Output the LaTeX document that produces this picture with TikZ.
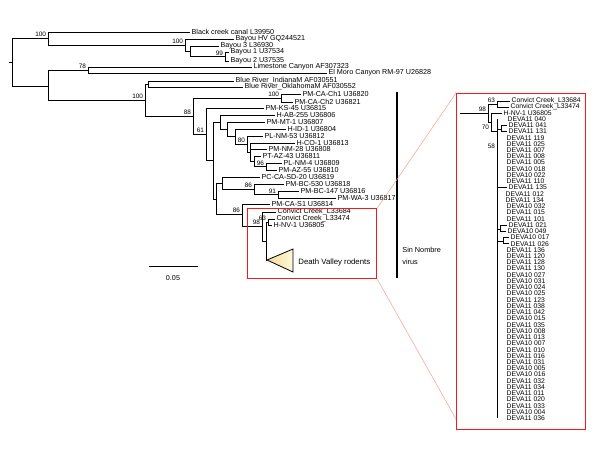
\documentclass[tikz,border=0pt]{standalone}
\usepackage{fontspec}
\setmainfont{Liberation Sans}
\definecolor{boxred}{HTML}{F21A1A}
\definecolor{zoomline}{HTML}{F5A08E}
\definecolor{wedgepale}{HTML}{FFF8DC}
\definecolor{wedgegold}{HTML}{F3DC96}

\begin{document}
\begin{tikzpicture}[x=1pt, y=-1pt, line width=0.8pt,
    leaf/.style={anchor=west, inner sep=1.2pt, font=\fontsize{7.2}{7.5}\selectfont},
    deva/.style={anchor=west, inner sep=1.2pt, font=\fontsize{6.8}{6.8}\selectfont},
    bs/.style={anchor=south east, inner sep=0.6pt, xshift=-1pt, font=\fontsize{6.4}{6.4}\selectfont}]
  \useasboundingbox (0,0) rectangle (600,450);

  % internal nodes of the main tree
  \coordinate (rstem) at (9,62);
  \coordinate (root) at (12,62);
  \coordinate (nBcc) at (48,38);
  \coordinate (nBay) at (185,45);
  \coordinate (nB3) at (190,51.5);
  \coordinate (nB12) at (225,56.5);
  \coordinate (nLow) at (48,86);
  \coordinate (n78) at (88,70);
  \coordinate (n100) at (145,100);
  \coordinate (nBr) at (148,84);
  \coordinate (n88) at (193,116);
  \coordinate (nCh) at (281,98);
  \coordinate (n61) at (206,134);
  \coordinate (nG) at (213,160);
  \coordinate (nA) at (220,122);
  \coordinate (nB) at (227,129);
  \coordinate (nC) at (235,136);
  \coordinate (n80) at (247,144);
  \coordinate (nE) at (250,152);
  \coordinate (nF) at (254,161);
  \coordinate (n96) at (266,166.5);
  \coordinate (nX) at (216,199);
  \coordinate (nH) at (222,183);
  \coordinate (n86a) at (254,189);
  \coordinate (n91) at (278,194.5);
  \coordinate (n86b) at (242,214);
  \coordinate (n98) at (262,226);
  \coordinate (nY) at (266,241);
  \coordinate (n63) at (268,222);
  \coordinate (dvtip) at (267,260);

  % tips
  \node[leaf] (tBcc) at (190,32) {Black creek canal L39950};
  \node[leaf] (tBhv) at (234,39) {Bayou HV GQ244521};
  \node[leaf] (tB3) at (219,46) {Bayou 3 L36930};
  \node[leaf] (tB1) at (229,52) {Bayou 1 U37534};
  \node[leaf] (tB2) at (229,61) {Bayou 2 U37535};
  \node[leaf] (tLim) at (252,67) {Limestone Canyon AF307323};
  \node[leaf] (tElm) at (327,73) {El Moro Canyon RM-97 U26828};
  \node[leaf] (tBri) at (234,81) {Blue River\_IndianaM AF030551};
  \node[leaf] (tBro) at (243,87) {Blue River\_OklahomaM AF030552};
  \node[leaf] (tCh1) at (301,94) {PM-CA-Ch1 U36820};
  \node[leaf] (tCh2) at (293,102) {PM-CA-Ch2 U36821};
  \node[leaf] (tKs) at (264,108) {PM-KS-45 U36815};
  \node[leaf] (tAb) at (275,115) {H-AB-255 U36806};
  \node[leaf] (tMt) at (265,122) {PM-MT-1 U36807};
  \node[leaf] (tId) at (286,129) {H-ID-1 U36804};
  \node[leaf] (tNm53) at (263,136) {PL-NM-53 U36812};
  \node[leaf] (tCo) at (295,143) {H-CO-1 U36813};
  \node[leaf] (tNm28) at (267,149) {PM-NM-28 U36808};
  \node[leaf] (tAz43) at (261,156) {PT-AZ-43 U36811};
  \node[leaf] (tNm4) at (282,163) {PL-NM-4 U36809};
  \node[leaf] (tAz55) at (277,170) {PM-AZ-55 U36810};
  \node[leaf] (tSd) at (260,177) {PC-CA-SD-20 U36819};
  \node[leaf] (tBc530) at (284,184) {PM-BC-530 U36818};
  \node[leaf] (tBc147) at (299,191) {PM-BC-147 U36816};
  \node[leaf] (tWa) at (336,198) {PM-WA-3 U36817};
  \node[leaf] (tS1) at (270,204) {PM-CA-S1 U36814};
  \node[leaf] (tCc1) at (276,212) {Convict Creek\_L33684};
  \node[leaf] (tCc2) at (275,219) {Convict Creek\_L33474};
  \node[leaf] (tNv) at (272,225) {H-NV-1 U36805};

  % branches
  \draw (rstem) -- (root);
  \draw (root) |- (nBcc);
  \draw (root) |- (nLow);
  \draw (nBcc) |- (tBcc.west);
  \draw (nBcc) |- (nBay);
  \draw (nBay) |- (tBhv.west);
  \draw (nBay) |- (nB3);
  \draw (nB3) |- (tB3.west);
  \draw (nB3) |- (nB12);
  \draw (nB12) |- (tB1.west);
  \draw (nB12) |- (tB2.west);
  \draw (nLow) |- (n78);
  \draw (nLow) |- (n100);
  \draw (n78) |- (tLim.west);
  \draw (n78) |- (tElm.west);
  \draw (n100) |- (nBr);
  \draw (n100) |- (n88);
  \draw (nBr) |- (tBri.west);
  \draw (nBr) |- (tBro.west);
  \draw (n88) |- (nCh);
  \draw (n88) |- (n61);
  \draw (nCh) |- (tCh1.west);
  \draw (nCh) |- (tCh2.west);
  \draw (n61) |- (tKs.west);
  \draw (n61) |- (nG);
  \draw (nG) |- (nA);
  \draw (nG) |- (nX);
  \draw (nA) |- (tAb.west);
  \draw (nA) |- (nB);
  \draw (nB) |- (tMt.west);
  \draw (nB) |- (nC);
  \draw (nC) |- (tId.west);
  \draw (nC) |- (n80);
  \draw (n80) |- (tNm53.west);
  \draw (n80) |- (nE);
  \draw (nE) |- (tCo.west);
  \draw (nE) |- (tNm28.west);
  \draw (nE) |- (nF);
  \draw (nF) |- (tAz43.west);
  \draw (nF) |- (n96);
  \draw (n96) |- (tNm4.west);
  \draw (n96) |- (tAz55.west);
  \draw (nX) |- (nH);
  \draw (nX) |- (n86b);
  \draw (nH) |- (tSd.west);
  \draw (nH) |- (n86a);
  \draw (n86a) |- (tBc530.west);
  \draw (n86a) |- (n91);
  \draw (n91) |- (tBc147.west);
  \draw (n91) |- (tWa.west);
  \draw (n86b) |- (tS1.west);
  \draw (n86b) |- (n98);
  \draw (n98) |- (tCc1.west);
  \draw (n98) |- (nY);
  \draw (nY) |- (n63);
  \draw (nY) |- (dvtip);
  \draw (n63) |- (tCc2.west);
  \draw (n63) |- (tNv.west);

  % bootstrap values
  \node[bs] (bBcc) at (nBcc) {100};
  \node[bs] (bBay) at (nBay) {100};
  \node[bs] (bB12) at (nB12) {99};
  \node[bs] (b78) at (n78) {78};
  \node[bs] (b100) at (n100) {100};
  \node[bs] (b88) at (n88) {88};
  \node[bs] (bCh) at (nCh) {100};
  \node[bs] (b61) at (n61) {61};
  \node[bs] (b80) at (n80) {80};
  \node[bs] (b96) at (n96) {96};
  \node[bs] (b86a) at (n86a) {86};
  \node[bs] (b91) at (n91) {91};
  \node[bs] (b86b) at (n86b) {86};
  \node[bs] (b98) at (n98) {98};
  \node[bs] (b63) at (n63) {63};

  % collapsed Death Valley clade
  \shadedraw[left color=wedgegold, right color=wedgepale] (dvtip) -- (293,249) -- (293,272) -- cycle;
  \node[anchor=west, inner sep=1pt, font=\fontsize{7.8}{8}\selectfont] (dvlabel) at (297,262) {Death Valley rodents};

  % Sin Nombre bar
  \coordinate (snTop) at (397,92);
  \coordinate (snBot) at (397,278);
  \draw[line width=1.3pt] (snTop) -- (snBot);
  \node[anchor=west, align=left, inner sep=1pt, font=\fontsize{7.3}{11.5}\selectfont] (snlabel) at (401,256) {Sin Nombre\\virus};

  % scale bar
  \coordinate (sbL) at (149,266);
  \coordinate (sbR) at (198,266);
  \draw (sbL) -- (sbR);
  \node[font=\fontsize{7.2}{7.2}\selectfont] (sblabel) at (173,278) {0.05};

  % zoom boxes
  \node[draw=boxred, line width=1.4pt, minimum width=129pt, minimum height=70pt, inner sep=0pt, anchor=north west] (smallbox) at (247,208) {};
  \node[draw=boxred, line width=1.4pt, minimum width=129pt, minimum height=336pt, inner sep=0pt, anchor=north west] (bigbox) at (456,93) {};
  \coordinate (bigjoin) at (456,419);
  \draw[zoomline, line width=0.5pt] (smallbox.north east) -- (bigbox.north west);
  \draw[zoomline, line width=0.5pt] (smallbox.south east) -- (bigjoin);

  % expanded clade
  \coordinate (istem) at (460,113);
  \coordinate (i98) at (488,113);
  \coordinate (i63) at (497,104);
  \coordinate (i70) at (491,122);
  \coordinate (i58) at (497,131);
  \coordinate (k1) at (501,129);
  \coordinate (k2) at (500,229);
  \coordinate (k3) at (503,241.5);
  \node[deva] (ic1) at (510,101) {Convict Creek\_L33684};
  \node[deva] (ic2) at (509,107) {Convict Creek\_L33474};
  \node[deva] (inv) at (502,113) {H-NV-1 U36805};
  \foreach \lab/\dx [count=\i] in {DEVA11 040/2, DEVA11 041/3, DEVA11 131/3, DEVA11 119/1,
      DEVA11 025/1, DEVA11 007/1, DEVA11 008/1, DEVA11 005/1, DEVA10 018/1, DEVA10 022/1,
      DEVA11 110/1, DEVA11 135/3, DEVA11 012/0, DEVA11 134/0, DEVA10 032/1, DEVA11 015/1,
      DEVA11 101/1, DEVA11 021/3, DEVA10 049/2, DEVA10 017/5, DEVA11 026/5, DEVA11 136/1,
      DEVA11 120/1, DEVA11 128/1, DEVA11 130/1, DEVA10 027/1, DEVA10 031/1, DEVA10 024/1,
      DEVA10 025/1, DEVA11 123/1, DEVA11 038/1, DEVA11 042/1, DEVA10 015/1, DEVA11 035/1,
      DEVA10 008/1, DEVA11 013/1, DEVA10 007/1, DEVA11 010/1, DEVA11 016/1, DEVA11 031/1,
      DEVA10 005/1, DEVA10 016/1, DEVA11 032/1, DEVA11 034/1, DEVA11 011/1, DEVA11 020/1,
      DEVA11 033/1, DEVA10 004/1, DEVA11 036/1}
    \node[deva] (d\i) at (504+\dx, 112.765+6.235*\i) {\lab};

  \draw (istem) -- (i98);
  \draw (i98) |- (i63);
  \draw (i98) |- (i70);
  \draw (i63) |- (ic1.west);
  \draw (i63) |- (ic2.west);
  \draw (i70) |- (inv.west);
  \draw (i70) |- (i58);
  \draw[line width=1pt] (i58 |- d1.west) -- (i58 |- d49.west);
  \draw (i58 |- k1) -- (k1);
  \draw (k1) |- (d2.west);
  \draw (k1) |- (d3.west);
  \draw (i58 |- d12.west) -- (d12.west);
  \draw (i58 |- k2) -- (k2);
  \draw (k2) |- (d18.west);
  \draw (k2) |- (d19.west);
  \draw (i58 |- k3) -- (k3);
  \draw (k3) |- (d20.west);
  \draw (k3) |- (d21.west);
  \node[bs] (ib98) at (i98) {98};
  \node[bs] (ib63) at (i63) {63};
  \node[anchor=north east, inner sep=0.6pt, font=\fontsize{6.4}{6.4}\selectfont] (ib70) at (490,124) {70};
  \node[anchor=east, inner sep=0.6pt, font=\fontsize{6.4}{6.4}\selectfont] (ib58) at (496,146) {58};
\end{tikzpicture}
\end{document}
